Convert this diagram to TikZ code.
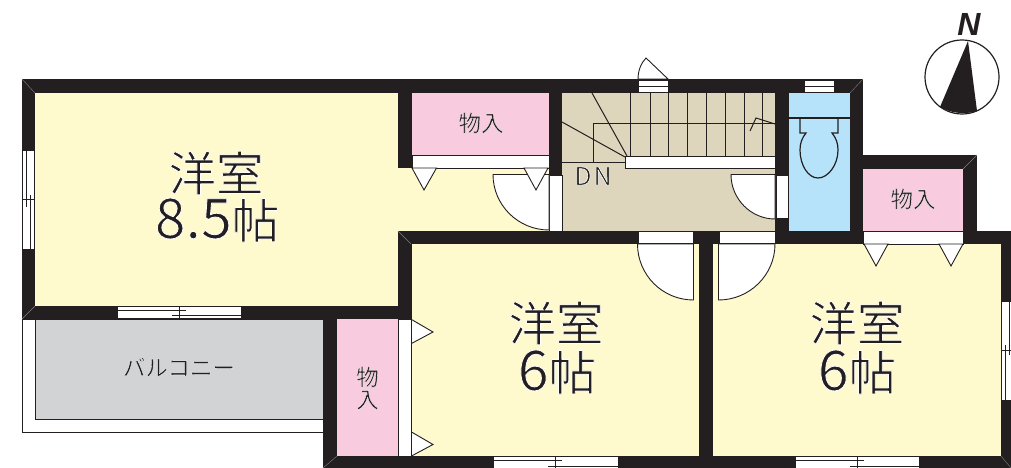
\documentclass[tikz,border=0pt]{standalone}
\usepackage{fontspec}
\setmainfont{Noto Sans CJK JP}
\newfontfamily\latfont{Liberation Sans}
\newcommand{\halo}[2][0.8]{\leavevmode\special{pdf:code q 2 Tr #1 w 1 j 1 1 1 RG}#2\special{pdf:code Q}}
\newcommand{\digs}[1]{\fontsize{55.5}{55.5}\selectfont #1\fontsize{47.5}{47.5}\selectfont 帖}
\definecolor{wallk}{HTML}{231F20}
\definecolor{ryellow}{HTML}{FFF9CE}
\definecolor{rpink}{HTML}{F9CBDF}
\definecolor{rbeige}{HTML}{DDD6BD}
\definecolor{rblue}{HTML}{B6E3F9}
\definecolor{rgray}{HTML}{D1D3D4}
\tikzset{
 wallfill/.style={fill=wallk,draw=none},
 opening/.style={fill=white,draw=wallk,line width=0.9pt},
 thinline/.style={draw=wallk,line width=1pt},
 fineline/.style={draw=wallk,line width=1.2pt},
 joint/.style={draw=gray,line width=0.4pt},
 big/.style={text=wallk,inner sep=0pt,font=\fontsize{47.5}{47.5}\selectfont},
 small/.style={text=wallk,inner sep=0pt,font=\fontsize{22.5}{22.5}\selectfont},
}
\begin{document}
\begin{tikzpicture}[x=1pt,y=-1pt]
\useasboundingbox (0,0) rectangle (1011,468);
% room fills
\fill[ryellow] (35,93)--(398,93)--(398,168)--(549,168)--(549,231)--(398,231)--(398,306)--(35,306)--cycle;
\fill[ryellow] (411,244) rectangle (699,456);
\fill[ryellow] (713,244) rectangle (1001,456);
\fill[rpink] (412,93) rectangle (549,155);
\fill[rpink] (337,319) rectangle (398,456);
\fill[rpink] (863,169) rectangle (963,231);
\fill[rbeige] (562,93) rectangle (775,231);
\fill[rblue] (789,93) rectangle (850,231);
% balcony
\draw[fill=white,thinline] (22.5,319)--(22.5,432)--(323,432)--(323,319)--cycle;
\draw[fill=rgray,thinline] (35,319)--(35,419)--(323,419)--(323,319)--cycle;
% walls
\fill[wallfill] (22,79) rectangle (863,93);
\fill[wallfill] (22,79) rectangle (35,319);
\fill[wallfill] (22,306) rectangle (411,319);
\fill[wallfill] (398,231) rectangle (411.5,319);
\fill[wallfill] (398,231) rectangle (1011,244);
\fill[wallfill] (398,93) rectangle (412,168);
\fill[wallfill] (549,93) rectangle (562,175);
\fill[wallfill] (775,93) rectangle (789,244);
\fill[wallfill] (850,79) rectangle (863,244);
\fill[wallfill] (850,155) rectangle (977,169);
\fill[wallfill] (963,155) rectangle (977,244);
\fill[wallfill] (323,319) rectangle (337,468);
\fill[wallfill] (323,456) rectangle (1011,468);
\fill[wallfill] (1001,231) rectangle (1011,468);
\fill[wallfill] (699,231) rectangle (713,456);
% wall joints
\draw[joint] (22,79)--(35,93) (863,79)--(850,93) (22,319)--(35,306) (398,231)--(411,244)
 (323,468)--(337,456) (977,155)--(963,169) (1011,468)--(1001,456);
% stairs
\draw[thinline] (630.7,93)--(630.7,156) (650,93)--(650,156) (668.7,93)--(668.7,156)
 (687.3,93)--(687.3,156) (706.3,93)--(706.3,156) (725,93)--(725,156) (744,93)--(744,156) (762.7,93)--(762.7,156);
\draw[thinline] (775,124)--(593,124)--(593,162);
\draw[thinline] (562,162)--(625,162);
\draw[thinline] (592,93)--(627,156);
\draw[thinline] (562,122)--(625,157);
\draw[opening] (625,156) rectangle (775,168);
\draw[thinline] (750,131)--(756,118)--(775,124);
% closet strips
\draw[opening] (412,155) rectangle (549,168);
\draw[opening] (398,319) rectangle (411,456);
\draw[opening] (863.5,231.5) rectangle (963,244);
% doors and openings
\draw[opening] (549.5,175) rectangle (562,231);
\draw[opening] (549,174.5)--(493,174.5) .. controls (493,205) and (518,230) .. (549,230)--cycle;
\draw[opening] (776,175) rectangle (788,218);
\draw[opening] (775,174.5)--(731,174.5) .. controls (731,199) and (751,219) .. (775,219)--cycle;
\draw[opening] (638,231.5) rectangle (693,243.5);
\draw[opening] (719,231.5) rectangle (775,243.5);
\draw[opening] (693.5,244)--(637.5,244) .. controls (637.5,275) and (662.5,300) .. (693.5,300)--cycle;
\draw[opening] (718.5,244)--(775,244) .. controls (775,275) and (749.5,300) .. (718.5,300)--cycle;
% closet door triangles
\draw[opening] (412,168)--(436.5,168)--(424,190)--cycle;
\draw[opening] (524,168)--(548,168)--(536,190)--cycle;
\draw[opening] (411.5,319.5)--(411.5,343.5)--(433,332)--cycle;
\draw[opening] (411.5,432)--(411.5,456)--(433,444.5)--cycle;
\draw[opening] (864,244)--(888,244)--(876,266)--cycle;
\draw[opening] (939,244)--(963,244)--(951,266)--cycle;
% top door
\draw[opening] (638,79) .. controls (638,71) and (641,63) .. (646,58)--(668,79)--cycle;
\draw[opening] (638,80.5) rectangle (668,92.5);
\draw[thinline] (638,87)--(668,87);
\draw[opening] (804,80.5) rectangle (834,92.5);
\draw[thinline] (804,87)--(834,87);
% windows
\draw[opening] (22.5,150) rectangle (34.5,249);
\draw[thinline] (26,150)--(26,207) (30.5,195)--(30.5,249) (22.5,199.5)--(34.5,199.5);
\draw[opening] (117,306.5) rectangle (241,318.5);
\draw[thinline] (117,310)--(186,310) (172,315)--(241,315) (179,306.5)--(179,318.5);
\draw[opening] (493,456.5) rectangle (618,470);
\draw[thinline] (493,460)--(562,460) (548,466)--(618,466) (555.5,456.5)--(555.5,470);
\draw[opening] (795,456.5) rectangle (919,470);
\draw[thinline] (795,460)--(864,460) (850,466)--(919,466) (857,456.5)--(857,470);
\draw[opening] (1001.5,301.5) rectangle (1013,400);
\draw[thinline] (1005,345)--(1005,400) (1009,301.5)--(1009,355) (1001.5,350)--(1013,350);
% toilet
\draw[thinline,line width=1.4pt] (789,118)--(850,118);
\draw[fineline] (800,118)--(800,133)--(806,133) .. controls (802,138) and (800,143) .. (800,150) .. controls (800,165) and (808,178) .. (818,178) .. controls (828,178) and (838,165) .. (838,150) .. controls (838,143) and (836,138) .. (832,133)--(838,133)--(838,118);
% compass
\draw[fineline,fill=white] (962,77) circle [radius=37];
\fill[wallk] (968,41)--(940,107) .. controls (950,113) and (965,115) .. (977,111)--cycle;
\node[text=wallk,inner sep=0pt,font=\latfont\bfseries\itshape\fontsize{32}{32}\selectfont] (north) at (969,24) {N};
% texts
\node[big] (a1) at (216,173) {\halo{洋室}};
\node[big] (a2) at (217,220) {\halo{\digs{8.5}}};
\node[big] (b1) at (556,323) {\halo{洋室}};
\node[big] (b2) at (557,372) {\halo{\digs{6}}};
\node[big] (c1) at (857,323) {\halo{洋室}};
\node[big] (c2) at (857,372) {\halo{\digs{6}}};
\node[small] (s1) at (481,123) {\halo[0.3]{物入}};
\node[small] (s3) at (913,199) {\halo[0.3]{物入}};
\node[small] (s2a) at (367.5,377) {\halo[0.3]{物}};
\node[small] (s2b) at (367.5,400) {\halo[0.3]{入}};
\node[small] (bal) at (179,367) {\halo[0.3]{バルコニー}};
\node[text=wallk,inner sep=0pt,font=\fontsize{25}{25}\selectfont] (dn) at (593,176) {\halo[0.6]{D\kern2pt N}};
\end{tikzpicture}
\end{document}
